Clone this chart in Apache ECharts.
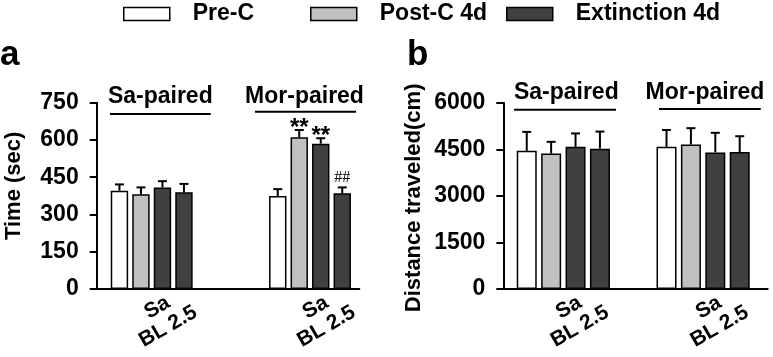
<!DOCTYPE html>
<html><head><meta charset="utf-8">
<script src="https://cdn.jsdelivr.net/npm/echarts@6/dist/echarts.min.js"></script>
<style>html,body{margin:0;padding:0;background:#fff}#c{width:773px;height:357px}</style>
</head><body><div id="c"></div>
<script>
// ---------- data ----------
const groups = ['Sa-paired', 'Mor-paired'];
const tickText = ['Sa\nBL 2.5', 'Sa\nBL 2.5'];
const seriesNames = ['Pre-C', 'Post-C 4d', 'Extinction 4d', 'Extinction 4d test'];
const legendNames = ['Pre-C', 'Post-C 4d', 'Extinction 4d'];

const timePreC  = [396, 374];
const timePostC = [381, 611];
const timeExt   = [409, 585];
const timeExt2  = [389, 385];
const timePreCErr  = [25, 28];
const timePostCErr = [28, 29];
const timeExtErr   = [25, 22];
const timeExt2Err  = [34, 24];
const timeMarks = [['', ''], ['', '**'], ['', '**'], ['', '##']];

const distPreC  = [4450, 4580];
const distPostC = [4360, 4650];
const distExt   = [4580, 4400];
const distExt2  = [4520, 4410];
const distPreCErr  = [610, 540];
const distPostCErr = [380, 530];
const distExtErr   = [430, 630];
const distExt2Err  = [550, 510];
const distMarks = [['', ''], ['', ''], ['', ''], ['', '']];

const timeTicks = [0, 150, 300, 450, 600, 750];
const distTicks = [0, 1500, 3000, 4500, 6000];

// ---------- style ----------
const FONT = "'Liberation Sans', Arial, Helvetica, sans-serif";
const colors = ['#ffffff', '#c0c0c0', '#404040', '#404040'];
const TOP = 102.7, H = 186.3;

const chart = echarts.init(document.getElementById('c'), null, {renderer: 'canvas'});

function errItems(vals, errs, marks) {
  const out = [];
  vals.forEach((arr, k) => arr.forEach((v, cat) => {
    out.push({cat, k, v, e: errs[k][cat], mark: marks[k][cat]});
  }));
  return out;
}
const timeErrItems = errItems([timePreC, timePostC, timeExt, timeExt2],
  [timePreCErr, timePostCErr, timeExtErr, timeExt2Err], timeMarks);
const distErrItems = errItems([distPreC, distPostC, distExt, distExt2],
  [distPreCErr, distPostCErr, distExtErr, distExt2Err], distMarks);

function errRender(items, bw, gap) {
  return function (params, api) {
    const it = items[params.dataIndex];
    const c = api.coord([it.cat, it.v]);
    const t = api.coord([it.cat, it.v + it.e]);
    const x = c[0] + (it.k - 1.5) * (bw + gap);
    const ch = [
      {type: 'line', shape: {x1: x, y1: c[1], x2: x, y2: t[1]}, style: {stroke: '#000', lineWidth: 2}},
      {type: 'line', shape: {x1: x - 4.5, y1: t[1], x2: x + 4.5, y2: t[1]}, style: {stroke: '#000', lineWidth: 2}}
    ];
    if (it.mark === '**') {
      ch.push({type: 'text', x: x, y: t[1] - 1.5, style: {text: it.mark, font: 'bold 24px ' + FONT, fill: '#000', align: 'center', verticalAlign: 'middle'}});
    } else if (it.mark) {
      ch.push({type: 'text', x: x, y: t[1] - 10, style: {text: it.mark, font: '16px "Liberation Serif", "Times New Roman", serif', fill: '#000', align: 'center', verticalAlign: 'middle'}});
    }
    return {type: 'group', children: ch};
  };
}

function axisGrid(left, width) { return {left, top: TOP, width, height: H, containLabel: false}; }

function visibleY(gridIndex, ticks, name, nameGap, namePad) {
  return {
    type: 'value', gridIndex, min: ticks[0], max: ticks[ticks.length - 1],
    interval: ticks[1] - ticks[0],
    axisLine: {show: true, lineStyle: {color: '#000', width: 2}},
    axisTick: {show: true, inside: false, length: 7, lineStyle: {color: '#000', width: 2}},
    axisLabel: {margin: 18, color: '#000', fontSize: 23, fontWeight: 'bold', fontFamily: FONT,
      formatter: v => String(v)},
    splitLine: {show: false},
    name, nameLocation: 'middle', nameRotate: 90, nameGap,
    nameTextStyle: {color: '#000', fontSize: 22, fontWeight: 'bold', fontFamily: FONT, padding: namePad}
  };
}
function hiddenY(gridIndex, ticks) {
  return {type: 'value', gridIndex, min: ticks[0], max: ticks[ticks.length - 1], show: false, splitLine: {show: false}};
}
function lineX(gridIndex) {
  return {type: 'category', gridIndex, data: groups,
    axisLine: {show: true, onZero: false, lineStyle: {color: '#000', width: 2}},
    axisTick: {show: false}, axisLabel: {show: false}, splitLine: {show: false}};
}
function barX(gridIndex) {
  return {type: 'category', gridIndex, data: groups, show: true,
    axisLine: {show: false}, axisTick: {show: false}, splitLine: {show: false},
    axisLabel: {show: false}};
}

function barSeries(vals, xi, yi, bw, gapPct) {
  return vals.map((arr, k) => ({
    type: 'bar', name: seriesNames[k], xAxisIndex: xi, yAxisIndex: yi, data: arr,
    barWidth: bw, barGap: gapPct,
    itemStyle: {color: colors[k], borderColor: '#000', borderWidth: 1.5},
    emphasis: {disabled: true}, silent: true
  }));
}

const BW_A = 17.4, GAP_A = 4.1, BW_B = 20, GAP_B = 4.4;

const series = [].concat(
  barSeries([timePreC, timePostC, timeExt, timeExt2], 1, 1, BW_A, (GAP_A / BW_A * 100) + '%'),
  barSeries([distPreC, distPostC, distExt, distExt2], 3, 3, BW_B, (GAP_B / BW_B * 100) + '%'),
  [{type: 'custom', xAxisIndex: 1, yAxisIndex: 1, z: 5, silent: true,
    data: timeErrItems.map(it => [it.cat, it.v + it.e]),
    renderItem: errRender(timeErrItems, BW_A, GAP_A)},
   {type: 'custom', xAxisIndex: 3, yAxisIndex: 3, z: 5, silent: true,
    data: distErrItems.map(it => [it.cat, it.v + it.e]),
    renderItem: errRender(distErrItems, BW_B, GAP_B)}]
);

const legendCommon = {
  padding: 0, top: 2.5, itemWidth: 46, itemHeight: 13, icon: 'rect', selectedMode: false,
  itemStyle: {borderColor: '#000', borderWidth: 1.5},
  textStyle: {fontSize: 23, fontWeight: 'bold', color: '#000', fontFamily: FONT, padding: [0, 0, 0, 18]}
};
const legendLefts = [123, 310, 506];

const hdrFont = 'bold 23px ' + FONT;
const graphic = [
  {type: 'text', x: 0, y: 55, style: {text: 'a', font: 'bold 35px ' + FONT, fill: '#000', verticalAlign: 'middle'}},
  {type: 'text', x: 407, y: 55, style: {text: 'b', font: 'bold 35px ' + FONT, fill: '#000', verticalAlign: 'middle'}},
  {type: 'text', x: 160.3, y: 96.3, style: {text: groups[0], font: hdrFont, fill: '#000', align: 'center', verticalAlign: 'middle'}},
  {type: 'text', x: 304.5, y: 96.3, style: {text: groups[1], font: hdrFont, fill: '#000', align: 'center', verticalAlign: 'middle'}},
  {type: 'line', shape: {x1: 110, y1: 114, x2: 210.7, y2: 114}, style: {stroke: '#000', lineWidth: 2}},
  {type: 'line', shape: {x1: 255, y1: 111.7, x2: 356, y2: 111.7}, style: {stroke: '#000', lineWidth: 2}},
  {type: 'text', x: 566.3, y: 93, style: {text: groups[0], font: hdrFont, fill: '#000', align: 'center', verticalAlign: 'middle'}},
  {type: 'text', x: 705, y: 93, style: {text: groups[1], font: hdrFont, fill: '#000', align: 'center', verticalAlign: 'middle'}},
  {type: 'line', shape: {x1: 514, y1: 109.7, x2: 616, y2: 109.7}, style: {stroke: '#000', lineWidth: 2}},
  {type: 'line', shape: {x1: 659, y1: 109, x2: 760.7, y2: 109}, style: {stroke: '#000', lineWidth: 2}}
];

chart.setOption({
  animation: false,
  backgroundColor: '#fff',
  grid: [axisGrid(96.7, 262.6), axisGrid(72.55, 316.6), axisGrid(503.3, 264.4), axisGrid(493.45, 289.4)],
  xAxis: [lineX(0), barX(1), lineX(2), barX(3)],
  yAxis: [
    visibleY(0, timeTicks, 'Time (sec)', 72, [0, 0, 0, 20]),
    hiddenY(1, timeTicks),
    visibleY(2, distTicks, 'Distance traveled(cm)', 78, [0, 4, 0, 0]),
    hiddenY(3, distTicks)
  ],
  legend: legendNames.map((n, i) => Object.assign({}, legendCommon, {data: [n], left: legendLefts[i]})),
  series
});

// rotated two-line category tick labels, placed from the category axes' own pixel positions
[[1, 1], [3, 3]].forEach(([xi, yi]) => {
  groups.forEach((g, i) => {
    const p = chart.convertToPixel({xAxisIndex: xi, yAxisIndex: yi}, [i, 0]);
    graphic.push({type: 'text', x: p[0], y: p[1] + 9, rotation: Math.PI / 6,
      style: {text: tickText[i], font: 'bold 21px ' + FONT, lineHeight: 22, fill: '#000',
        align: 'center', verticalAlign: 'top'}});
  });
});
chart.setOption({graphic});
</script>
</body></html>
